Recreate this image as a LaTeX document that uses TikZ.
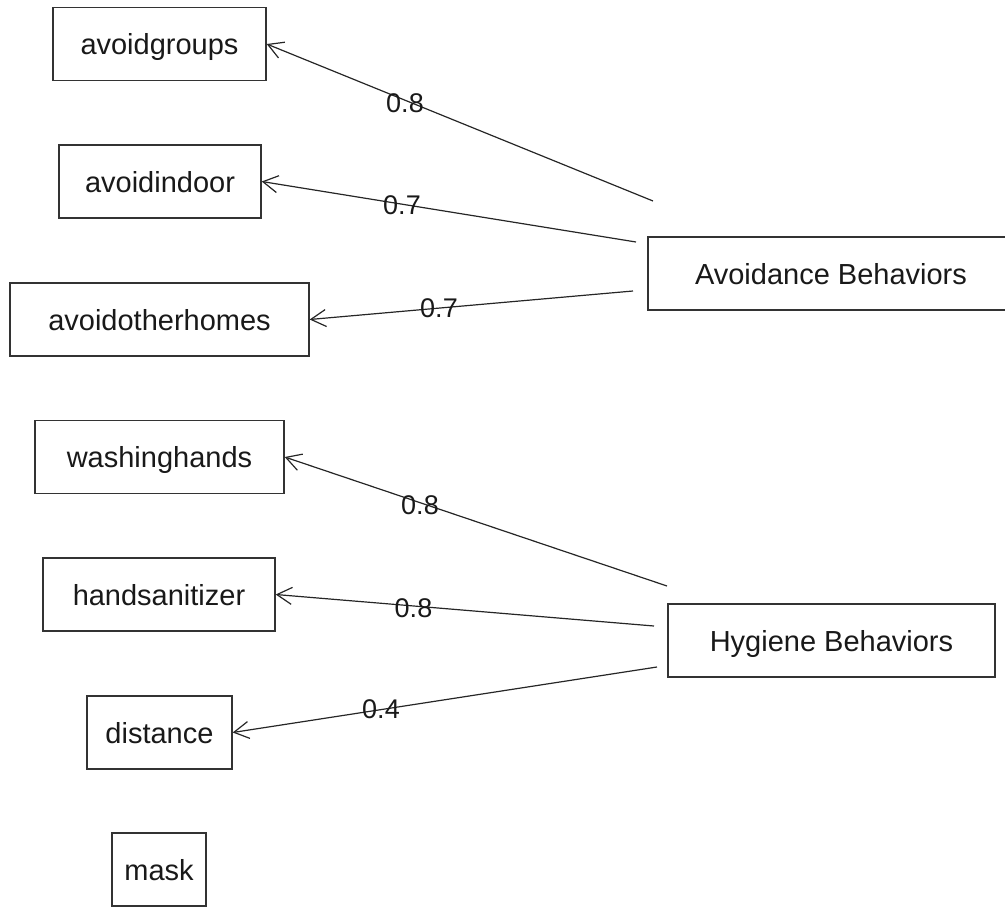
\documentclass[tikz,border=0pt]{standalone}
\usepackage{fontspec}
\setmainfont{Liberation Sans}
\usetikzlibrary{arrows.meta}
\begin{document}
\begin{tikzpicture}[x=1pt,y=-1pt,
  box/.style={draw=black!80,line width=1.4pt,inner sep=0pt,minimum height=73pt,
    text height=21pt,text depth=0pt,font=\fontsize{29}{35}\selectfont,text=black!90},
  load/.style={draw=black!85,line width=1.2pt,-{Straight Barb[length=15pt,width=17pt,line width=1.2pt]}},
  lab/.style={inner sep=0pt,font=\fontsize{27}{32}\selectfont,text=black!90}]
\useasboundingbox (0,0) rectangle (1005,907);
\clip (0,0) rectangle (1005,907);
% indicator boxes
\node[box,minimum width=213pt] (ag) at (159.5,44) {avoidgroups};
\node[box,minimum width=202pt] (ai) at (160,181.5) {avoidindoor};
\node[box,minimum width=299pt] (ao) at (159.5,319.5) {avoidotherhomes};
\node[box,minimum width=249pt] (wh) at (159.5,457) {washinghands};
\node[box,minimum width=232pt] (hs) at (159,594.5) {handsanitizer};
\node[box,minimum width=145pt] (di) at (159.5,732.5) {distance};
\node[box,minimum width=94pt] (ma) at (159,869.5) {mask};
% factor boxes (the first runs past the right edge of the picture)
\node[box,minimum width=366pt] (av) at (831,273.5) {Avoidance Behaviors};
\node[box,minimum width=327pt] (hy) at (831.5,640.5) {Hygiene Behaviors};
% tail points
\coordinate (t1) at (653,201);
\coordinate (t2) at (636,242);
\coordinate (t3) at (633,291);
\coordinate (t4) at (667,586);
\coordinate (t5) at (654,626);
\coordinate (t6) at (657,667);
% loadings
\draw[load] (t1) -- (ag.east);
\draw[load] (t2) -- (ai.east);
\draw[load] (t3) -- (ao.east);
\draw[load] (t4) -- (wh.east);
\draw[load] (t5) -- (hs.east);
\draw[load] (t6) -- (di.east);
% labels
\node[lab] (l1) at (405,103) {0.8};
\node[lab] (l2) at (402,205) {0.7};
\node[lab] (l3) at (439,308) {0.7};
\node[lab] (l4) at (420,505) {0.8};
\node[lab] (l5) at (413.5,608) {0.8};
\node[lab] (l6) at (381,709) {0.4};
\end{tikzpicture}
\end{document}
